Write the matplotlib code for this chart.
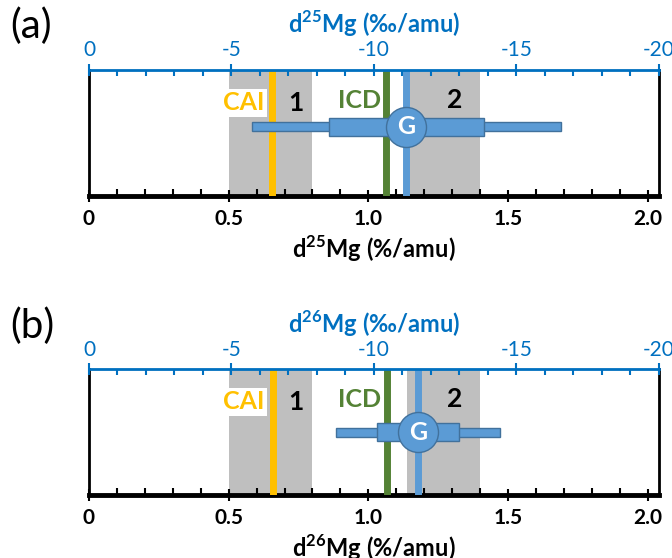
import matplotlib.pyplot as plt
from matplotlib.ticker import MultipleLocator

plt.rcParams['font.family'] = ['Lato', 'DejaVu Sans']
plt.rcParams['mathtext.fontset'] = 'custom'
plt.rcParams['mathtext.rm'] = 'Lato'
plt.rcParams['mathtext.bf'] = 'Lato:bold'
plt.rcParams['axes.unicode_minus'] = False

# data
panels = ['(a)', '(b)']
isotopes = ['25', '26']
zone1 = [0.5, 0.8]
zone2 = [1.14, 1.4]
cai = [0.655, 0.66]
icd = [1.063, 1.067]
g_mid = [1.135, 1.178]
g_outer = [[0.582, 1.689], [0.886, 1.47]]
g_inner = [[0.859, 1.413], [1.032, 1.324]]
g_y = [0.55, 0.50]

blue = '#5B9BD5'
dark_blue = '#41719C'
axis_blue = '#0070C0'
orange = '#FFC000'
green = '#548235'
gray = '#BFBFBF'


def draw_panel(ax, i):
    ax.set_xlim(0, 2.04)
    ax.set_ylim(0, 1)
    ax.set_yticks([])

    # shaded zones
    ax.axvspan(zone1[0], zone1[1], color=gray, lw=0, zorder=1)
    ax.axvspan(zone2[0], zone2[1], color=gray, lw=0, zorder=1)

    # reference lines
    ax.axvline(cai[i], color=orange, lw=5, zorder=3)
    ax.axvline(icd[i], color=green, lw=5, zorder=3)
    ax.axvline(g_mid[i], color=blue, lw=5, zorder=3)

    # G range bars
    y = g_y[i]
    ax.barh(y, g_outer[i][1] - g_outer[i][0], left=g_outer[i][0], height=0.07,
            color=blue, edgecolor=dark_blue, lw=1, zorder=4)
    ax.barh(y, g_inner[i][1] - g_inner[i][0], left=g_inner[i][0], height=0.145,
            color=blue, edgecolor=dark_blue, lw=1, zorder=5)
    ax.scatter([g_mid[i]], [y], s=830, color=blue, edgecolors=dark_blue, lw=1, zorder=6)
    ax.text(g_mid[i], y, 'G', color='white', fontsize=18, fontweight='bold',
            ha='center', va='center', zorder=7)

    # labels inside
    ax.text(0.553, 0.74, 'CAI', color=orange, fontsize=18, fontweight='bold', ha='center', va='center',
            zorder=2, bbox=dict(facecolor='white', edgecolor='none', pad=2))
    ax.text(0.74, 0.74, '1', color='black', fontsize=19, fontweight='bold', ha='center', va='center', zorder=2)
    ax.text(0.97, 0.76, 'ICD', color=green, fontsize=18, fontweight='bold', ha='center', va='center', zorder=2)
    ax.text(1.31, 0.76, '2', color='black', fontsize=19, fontweight='bold', ha='center', va='center', zorder=2)

    # bottom axis
    ax.xaxis.set_minor_locator(MultipleLocator(0.1))
    ax.set_xticks([0, 0.5, 1.0, 1.5, 2.0])
    ax.set_xticklabels(['0', '0.5', '1.0', '1.5', '2.0'], fontweight='bold')
    ax.tick_params(axis='x', which='major', direction='inout', length=9, width=1.5, labelsize=15, pad=5)
    ax.tick_params(axis='x', which='minor', direction='in', length=5, width=1.5)
    ax.spines['bottom'].set_linewidth(3.5)
    ax.spines['left'].set_linewidth(2)
    ax.spines['right'].set_linewidth(2)
    ax.set_xlabel('d$^{\\mathbf{' + isotopes[i] + '}}$Mg (%/amu)', fontsize=17, fontweight='bold', labelpad=3)

    # top axis in per mil
    top = ax.twiny()
    top.set_xlim(0, -20)
    top.xaxis.set_major_locator(MultipleLocator(5))
    top.xaxis.set_minor_locator(MultipleLocator(1))
    top.tick_params(axis='x', which='major', direction='inout', length=8, width=1.5,
                    colors=axis_blue, labelsize=15, pad=3)
    top.tick_params(axis='x', which='minor', direction='in', length=4, width=1.5, colors=axis_blue)
    top.spines['top'].set_color(axis_blue)
    top.spines['top'].set_linewidth(2)
    for s in ['left', 'right', 'bottom']:
        top.spines[s].set_visible(False)
    top.set_xlabel('d$^{\\mathbf{' + isotopes[i] + '}}$Mg (‰/amu)', fontsize=17, fontweight='bold',
                   color=axis_blue, labelpad=5)

    fig.text(0.015, ax.get_position().y1 + 0.078, panels[i], fontsize=29, ha='left', va='center')


fig = plt.figure(figsize=(6.72, 5.58), dpi=100)
ax_a = fig.add_axes([0.1324, 0.6487, 0.848, 0.2258])
ax_b = fig.add_axes([0.1324, 0.1129, 0.848, 0.2253])
draw_panel(ax_a, 0)
draw_panel(ax_b, 1)

plt.savefig('out.png', dpi=100)
